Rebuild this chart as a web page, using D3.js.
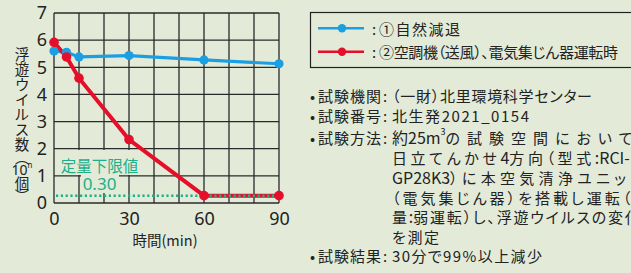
<!DOCTYPE html>
<html><head><meta charset="utf-8">
<script src="https://cdn.jsdelivr.net/npm/d3@7"></script>
<style>
html,body{margin:0;padding:0;background:#e3ebd8;overflow:hidden;}
svg{display:block;font-family:"Noto Sans CJK JP","Noto Sans",sans-serif;font-feature-settings:"palt";}
</style></head>
<body>
<svg id="c" width="631" height="273"></svg>
<script>
// ---- data ----
const times = [0, 5, 10, 30, 60, 90];
const natural = [5.6, 5.55, 5.38, 5.43, 5.27, 5.13];          // ①自然減退
const operated = [5.92, 5.38, 4.6, 2.34, 0.27, 0.27];          // ②空調機(送風)、電気集じん器運転時
const xTicks = [0, 30, 60, 90];
const yTicks = [0, 1, 2, 3, 4, 5, 6, 7];
const gridX = [0, 10, 20, 30, 40, 50, 60, 70, 80, 90];
const limitValue = 0.27;
const limitLabel = "定量下限値";
const limitText = "0.30";
const xTitle = "時間(min)";
const yTitleChars = ["浮","遊","ウ","イ","ル","ス","数","︵","10","個","︶"];
const seriesNames = ["①自然減退", "②空調機（送風）、電気集じん器運転時"];
const infoLabels = ["試験機関", "試験番号", "試験方法", "", "", "", "", "", "試験結果"];
const infoLines = [
  "（一財）北里環境科学センター",
  "北生発2021_0154",
  "約25m³の試験空間において、",
  "日立てんかせ4方向（型式:RCI-",
  "GP28K3）に本空気清浄ユニット",
  "（電気集じん器）を搭載し運転（風",
  "量:弱運転）し、浮遊ウイルスの変化",
  "を測定",
  "30分で99%以上減少"
];

// ---- styles / layout ----
const BG = "#e3ebd8", BLUE = "#1a9fe3", RED = "#e60f2a", TEAL = "#1daf8a", INK = "#222";
const infoY = [95, 115, 137, 157, 177, 197, 216, 236, 255];
// fit width for fully visible lines; CJK letter spacing for clipped (justified) lines
const fitLen = [200, 137, null, null, null, null, null, 47, 150];
const cjkSpace = [0, 0, 7.0, 3.6, 4.3, 3.0, 1.8, 0, 0];
const spaceFrom = [0, 0, 5, 0, 0, 0, 0, 0, 0];

const svg = d3.select("#c");
svg.append("rect").attr("width", 631).attr("height", 273).attr("fill", BG);

const x = d3.scaleLinear().domain([0, 90]).range([54, 279]);
const y = d3.scaleLinear().domain([0, 7]).range([203, 13]);

// grid
const g = svg.append("g");
g.selectAll(".gx").data(gridX).join("line")
  .attr("x1", d => x(d)).attr("x2", d => x(d)).attr("y1", y(0)).attr("y2", y(7))
  .attr("stroke", "#2a2a2a").attr("stroke-width", 1.3);
g.selectAll(".gy").data(yTicks).join("line")
  .attr("x1", x(0)).attr("x2", x(90)).attr("y1", d => y(d)).attr("y2", d => y(d))
  .attr("stroke", "#2a2a2a").attr("stroke-width", 1.3);

// limit label backgrounds + text
const lbl = svg.append("g");
lbl.append("rect").attr("x", 56).attr("y", 150).attr("width", 84).attr("height", 25).attr("fill", BG);
lbl.append("rect").attr("x", 81).attr("y", 174).attr("width", 38).attr("height", 19).attr("fill", BG);
lbl.append("text").attr("x", 99.5).attr("y", 165).attr("text-anchor", "middle").attr("dominant-baseline", "central")
  .attr("font-size", 15.5).attr("fill", TEAL).text(limitLabel);
lbl.append("text").attr("x", 99.5).attr("y", 183.5).attr("text-anchor", "middle").attr("dominant-baseline", "central")
  .attr("font-size", 17).attr("fill", TEAL).attr("font-family", "'Noto Sans',sans-serif").text(limitText);

// axes
const ya = svg.append("g").attr("transform", `translate(${x(0)},0)`)
  .call(d3.axisLeft(y).tickValues(yTicks).tickSize(0).tickPadding(7).tickFormat(d3.format("d")));
ya.select(".domain").remove();
ya.selectAll("text").attr("font-size", 18).attr("fill", INK).attr("font-family", "'Noto Sans',sans-serif");
const xa = svg.append("g").attr("transform", `translate(0,${y(0)})`)
  .call(d3.axisBottom(x).tickValues(xTicks).tickSize(0).tickPadding(9).tickFormat(d3.format("d")));
xa.select(".domain").remove();
xa.selectAll("text").attr("font-size", 18).attr("fill", INK).attr("font-family", "'Noto Sans',sans-serif");

svg.append("text").attr("x", 165).attr("y", 239).attr("text-anchor", "middle").attr("dominant-baseline", "central")
  .attr("font-size", 14.5).attr("fill", INK).text(xTitle);

// vertical y title
const yPos = [53, 68, 83, 98, 113, 128, 143, 156, 169, 182, 195];
yTitleChars.forEach((ch, i) => {
  const t = svg.append("text").attr("x", 22).attr("y", yPos[i]).attr("text-anchor", "middle")
    .attr("dominant-baseline", "central").attr("font-size", 14.5).attr("fill", INK);
  if (ch === "10") {
    t.attr("font-family", "'Noto Sans',sans-serif").attr("font-size", 14);
    t.append("tspan").text("10");
    t.append("tspan").attr("font-size", 8).attr("dy", -5).text("n");
  } else t.text(ch);
});

// lines
const line = d3.line().x((d, i) => x(times[i])).y(d => y(d));
svg.append("path").datum(natural).attr("d", line).attr("fill", "none").attr("stroke", BLUE).attr("stroke-width", 3.2);
svg.append("path").datum(operated).attr("d", line).attr("fill", "none").attr("stroke", RED).attr("stroke-width", 4);
// limit dotted line
svg.append("line").attr("x1", x(0) + 2).attr("x2", x(90)).attr("y1", y(limitValue)).attr("y2", y(limitValue))
  .attr("stroke", TEAL).attr("stroke-width", 2.5).attr("stroke-dasharray", "2.2 2.6");
// dots
svg.append("g").selectAll("circle").data(natural).join("circle")
  .attr("cx", (d, i) => x(times[i])).attr("cy", d => y(d)).attr("r", 4.6).attr("fill", BLUE);
svg.append("g").selectAll("circle").data(operated).join("circle")
  .attr("cx", (d, i) => x(times[i])).attr("cy", d => y(d)).attr("r", 4.8).attr("fill", RED);

// legend
svg.append("rect").attr("x", 310.5).attr("y", 12.5).attr("width", 400).attr("height", 55)
  .attr("fill", "none").attr("stroke", INK).attr("stroke-width", 1.2);
const legY = [28.3, 51.7];
const legLen = [81, 239];
[BLUE, RED].forEach((c, i) => {
  svg.append("line").attr("x1", 318).attr("x2", 364).attr("y1", legY[i]).attr("y2", legY[i])
    .attr("stroke", c).attr("stroke-width", 2.5);
  svg.append("circle").attr("cx", 342).attr("cy", legY[i]).attr("r", 4.2).attr("fill", c);
  svg.append("text").attr("x", 374).attr("y", legY[i]).attr("text-anchor", "middle").attr("dominant-baseline", "central")
    .attr("font-size", 15).attr("fill", INK).text(":");
  svg.append("text").attr("x", 379).attr("y", legY[i]).attr("dominant-baseline", "central")
    .attr("font-size", 15).attr("fill", INK).attr("textLength", legLen[i]).attr("lengthAdjust", "spacing")
    .text(seriesNames[i]);
});

// info text
const isLatin = ch => /[\x20-\x7e³]/.test(ch);
infoLines.forEach((s, i) => {
  if (infoLabels[i]) {
    svg.append("text").attr("x", 312.5).attr("y", infoY[i]).attr("text-anchor", "middle").attr("dominant-baseline", "central")
      .attr("font-size", 15).attr("fill", INK).text("•");
    svg.append("text").attr("x", 318).attr("y", infoY[i]).attr("dominant-baseline", "central")
      .attr("font-size", 15).attr("fill", INK).attr("textLength", 63).attr("lengthAdjust", "spacing").text(infoLabels[i]);
    svg.append("text").attr("x", 385).attr("y", infoY[i]).attr("text-anchor", "middle").attr("dominant-baseline", "central")
      .attr("font-size", 15).attr("fill", INK).text(":");
  }
  const t = svg.append("text").attr("x", 392).attr("y", infoY[i]).attr("dominant-baseline", "central")
    .attr("font-size", 15).attr("fill", INK);
  if (fitLen[i]) {
    t.attr("textLength", fitLen[i]).attr("lengthAdjust", "spacing").text(s);
    return;
  }
  const chars = Array.from(s);
  const runs = [];
  chars.forEach((ch, k) => {
    const sup = ch === "³";
    const lat = isLatin(ch) || k < spaceFrom[i];
    const key = sup ? "sup" : (lat ? "lat" : "cjk");
    if (runs.length && runs[runs.length - 1].key === key) runs[runs.length - 1].txt += ch;
    else runs.push({ key, txt: ch });
  });
  let prevSup = false;
  runs.forEach(r => {
    const ts = t.append("tspan").text(r.key === "sup" ? "3" : r.txt);
    if (r.key === "sup") { ts.attr("font-size", 9).attr("dy", -6); prevSup = true; }
    else {
      if (prevSup) { ts.attr("dy", 6); prevSup = false; }
      if (r.key === "cjk") ts.attr("letter-spacing", cjkSpace[i]);
      else ts.attr("font-size", 16);
    }
  });
});
</script>
</body></html>
